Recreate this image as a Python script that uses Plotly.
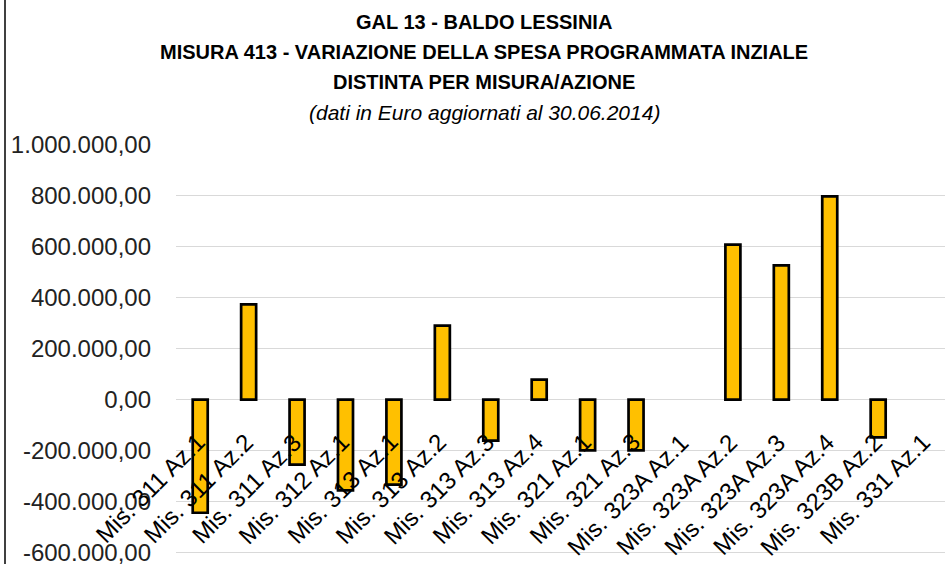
import plotly.graph_objects as go

categories = [
    "Mis. 311 Az.1", "Mis. 311 Az.2", "Mis. 311 Az.3", "Mis. 312 Az.1",
    "Mis. 313 Az.1", "Mis. 313 Az.2", "Mis. 313 Az.3", "Mis. 313 Az.4",
    "Mis. 321 Az.1", "Mis. 321 Az.3", "Mis. 323A Az.1", "Mis. 323A Az.2",
    "Mis. 323A Az.3", "Mis. 323A Az.4", "Mis. 323B Az.2", "Mis. 331 Az.1",
]
values = [
    -444000, 374000, -255000, -356000,
    -334000, 291000, -161000, 79000,
    -199000, -199000, 0, 609000,
    527000, 798000, -148000, 0,
]
tick_vals = [-600000, -400000, -200000, 0, 200000, 400000, 600000, 800000, 1000000]
tick_labels = ["-600.000,00", "-400.000,00", "-200.000,00", "0,00", "200.000,00",
               "400.000,00", "600.000,00", "800.000,00", "1.000.000,00"]
title_lines = [
    "<b>GAL 13 - BALDO LESSINIA</b>",
    "<b>MISURA 413 - VARIAZIONE DELLA SPESA PROGRAMMATA INZIALE</b>",
    "<b>DISTINTA PER MISURA/AZIONE</b>",
    "<i>(dati in Euro aggiornati al 30.06.2014)</i>",
]

W, H = 945, 564
ML, MR, MT, MB = 176, 0, 145, 9
PW, PH = W - ML - MR, H - MT - MB

def px_to_paper_x(px):
    return (px - ML) / PW

def px_to_paper_y(py):
    return (H - MB - py) / PH

fig = go.Figure()
fig.add_trace(go.Bar(
    x=categories, y=values,
    marker=dict(color="#FFC000",
                line=dict(color="#000000", width=[0 if v == 0 else 2.7 for v in values])),
    hoverinfo="x+y",
))

annotations = []
title_y_px = [22, 52, 82, 113]
title_sizes = [20, 20, 20, 21]
for line, ypx, sz in zip(title_lines, title_y_px, title_sizes):
    annotations.append(dict(
        text=line, xref="paper", yref="paper",
        x=px_to_paper_x(484), y=px_to_paper_y(ypx),
        xanchor="center", yanchor="middle", showarrow=False,
        font=dict(family="Liberation Sans, Arial, sans-serif", size=sz, color="#000000"),
    ))

for cat in categories:
    annotations.append(dict(
        text=cat, xref="x", yref="y", x=cat, y=0,
        xanchor="right", yanchor="top", xshift=12, yshift=-26,
        textangle=-45, showarrow=False,
        font=dict(family="Liberation Sans, Arial, sans-serif", size=24, color="#000000"),
    ))

fig.update_layout(
    width=W, height=H,
    margin=dict(l=ML, r=MR, t=MT, b=MB),
    paper_bgcolor="#FFFFFF", plot_bgcolor="#FFFFFF",
    bargap=0.69,
    showlegend=False,
    annotations=annotations,
    shapes=[dict(type="line", xref="paper", yref="paper",
                 x0=px_to_paper_x(5), x1=px_to_paper_x(5), y0=-0.1, y1=1.5,
                 line=dict(color="#404040", width=2))],
    xaxis=dict(range=[-0.5, 15.38], showticklabels=False, showgrid=False,
               showline=False, zeroline=False, ticks=""),
    yaxis=dict(range=[-610000, 1000000], tickvals=tick_vals, ticktext=tick_labels,
               showgrid=True, gridcolor="#D9D9D9", gridwidth=1.3,
               zeroline=True, zerolinecolor="#D9D9D9", zerolinewidth=1.3,
               showline=False, ticks="", ticklabelstandoff=24,
               ticklabeloverflow="allow", automargin=False,
               tickfont=dict(family="Liberation Sans, Arial, sans-serif", size=24, color="#222222")),
)

fig.write_html("out.html", config={"displayModeBar": False},
               post_script="document.body.style.margin='0';")
